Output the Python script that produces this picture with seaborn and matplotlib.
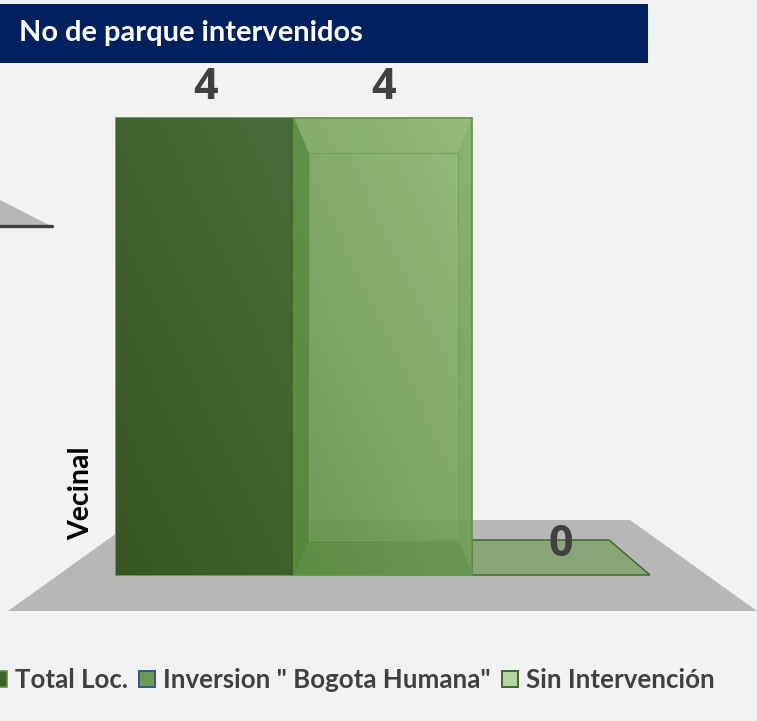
import numpy as np
import pandas as pd
import matplotlib
matplotlib.use("Agg")
import matplotlib.pyplot as plt
import seaborn as sns
from matplotlib.colors import to_rgb
from matplotlib.patches import Patch, Polygon, Rectangle
from matplotlib.transforms import Affine2D

categorias = ['Total Loc.', 'Inversion " Bogota Humana"', 'Sin Intervención']
parques = [4, 4, 0]
tipo_parque = 'Vecinal'
titulo = 'No de parque intervenidos'

W, H = 757, 721
BG = '#f2f2f2'

sns.set_theme(style='white')
plt.rcParams['font.family'] = ['Lato', 'DejaVu Sans']

df = pd.DataFrame({'categoria': categorias, 'parques': parques})

fig = plt.figure(figsize=(W / 100, H / 100), dpi=100, facecolor=BG)
ax = fig.add_axes([0, 0, 1, 1], facecolor=BG)

sns.barplot(data=df, x='categoria', y='parques', hue='categoria', dodge=False, width=1,
            palette=['#3f6029', '#7ba561', '#b5d5a0'], legend=False, zorder=3, ax=ax)

# one category step is 178 px, one unit is 114.25 px, first bar centred on px 205
ax.set_xlim(-205 / 178, (W - 205) / 178)
ax.set_ylim((575 - H) / 114.25, 575 / 114.25)
ax.set_axis_off()

# the 3d dressing is drawn in pixels, y going down
px = Affine2D().scale(1, -1).translate(0, H)


def poly(points, zorder=2, **kw):
    ax.add_patch(Polygon(points, closed=True, transform=px, zorder=zorder, **kw))


# floor of this chart and the corner of the chart above it
poly([(8, 611), (135, 520), (630, 520), (757, 611)], facecolor='#b7b7b7', edgecolor='none')
poly([(0, 200), (49, 225), (0, 225)], facecolor='#b7b7b7', edgecolor='none')
ax.plot([0, 52], [226, 226], transform=px, color='#404040', lw=2.4, solid_capstyle='round', zorder=2)

# flat box of the zero bar
poly([(472, 575), (650, 575), (609, 540), (472, 540)], facecolor='#8aa678',
     edgecolor='#3f6a2a', lw=1.1)


def gradiente(patch, c_bajo, c_alto, alpha):
    x0, x1 = sorted([patch.get_x(), patch.get_x() + patch.get_width()])
    y0, y1 = sorted([patch.get_y(), patch.get_y() + patch.get_height()])
    xx, yy = np.meshgrid(np.linspace(0, 1, 64), np.linspace(1, 0, 64))
    t = (0.45 * xx + 0.55 * yy)[..., None]
    rgb = np.array(to_rgb(c_bajo)) * (1 - t) + np.array(to_rgb(c_alto)) * t
    rgba = np.dstack([rgb, np.full(t.shape, alpha)])
    im = ax.imshow(rgba, extent=(x0, x1, y0, y1), aspect='auto', zorder=3.1, interpolation='bilinear')
    im.set_clip_path(patch)


xlim, ylim = ax.get_xlim(), ax.get_ylim()
barras = [c[0] for c in ax.containers]
barras[0].set_edgecolor('#5f8f45')
barras[0].set_linewidth(1.2)
barras[1].set_alpha(0.0)
barras[2].set_alpha(0.0)
gradiente(barras[0], '#365720', '#4a6c3a', 1.0)
gradiente(barras[1], '#5f8f45', '#90b775', 0.92)
ax.set_xlim(xlim)
ax.set_ylim(ylim)

# inside of the light box
poly([(294, 118), (309, 153), (309, 540), (294, 575)], zorder=3.2, facecolor='#4a7f30', alpha=0.6,
     edgecolor='none')
poly([(472, 118), (458, 153), (458, 540), (472, 575)], zorder=3.2, facecolor='#5f9445', alpha=0.22,
     edgecolor='none')
poly([(309, 153), (458, 153), (458, 540), (309, 540)], zorder=3.3, facecolor='none',
     edgecolor='#74a258', lw=0.8)
poly([(294, 575), (309, 540), (458, 540), (472, 575)], zorder=3.2, facecolor='#4a7f30', alpha=0.3,
     edgecolor='#5b9040', lw=1.0)
poly([(294, 118), (309, 153), (458, 153), (472, 118)], zorder=3.2, facecolor='#8fb973', alpha=0.15,
     edgecolor='#74a258', lw=0.8)
ax.add_patch(Rectangle((294, 118), 178, 457, transform=px, fill=False, edgecolor='#5f9445', lw=1.2, zorder=3.4))

for c in ax.containers:
    ax.bar_label(c, padding=6.5, fontsize=31, fontweight='bold', family='Open Sans', color='#404040', zorder=5)

# header band
ax.add_patch(Rectangle((0, 4), 648, 59, transform=px, facecolor='#002060', edgecolor='none', zorder=4))
ax.text(19, 33, titulo, transform=px, color='white', fontsize=20.9, fontweight='bold', va='center', ha='left', zorder=5)

ax.text(81, 493, tipo_parque, transform=px, rotation=90, color='black', fontsize=20.5, fontweight='bold',
        va='center', ha='center', zorder=5)

handles = [
    Patch(facecolor='#3f6029', edgecolor='#5f8f45', lw=1.2),
    Patch(facecolor='#6f9a55', edgecolor='#2f5597', lw=1.4),
    Patch(facecolor='#b5d5a0', edgecolor='#3f6a2a', lw=1.4),
]
ax.legend(handles, categorias, loc='lower left', bbox_to_anchor=(-9 / W, 1 - 692 / H), ncol=3, frameon=False,
          handlelength=0.6, handleheight=0.6, handletextpad=0.33, columnspacing=0.44, borderpad=0, borderaxespad=0,
          labelcolor='#404040', prop={'family': 'Lato', 'weight': 'bold', 'size': 18.6})

fig.savefig('out.png', dpi=100, facecolor=BG)
